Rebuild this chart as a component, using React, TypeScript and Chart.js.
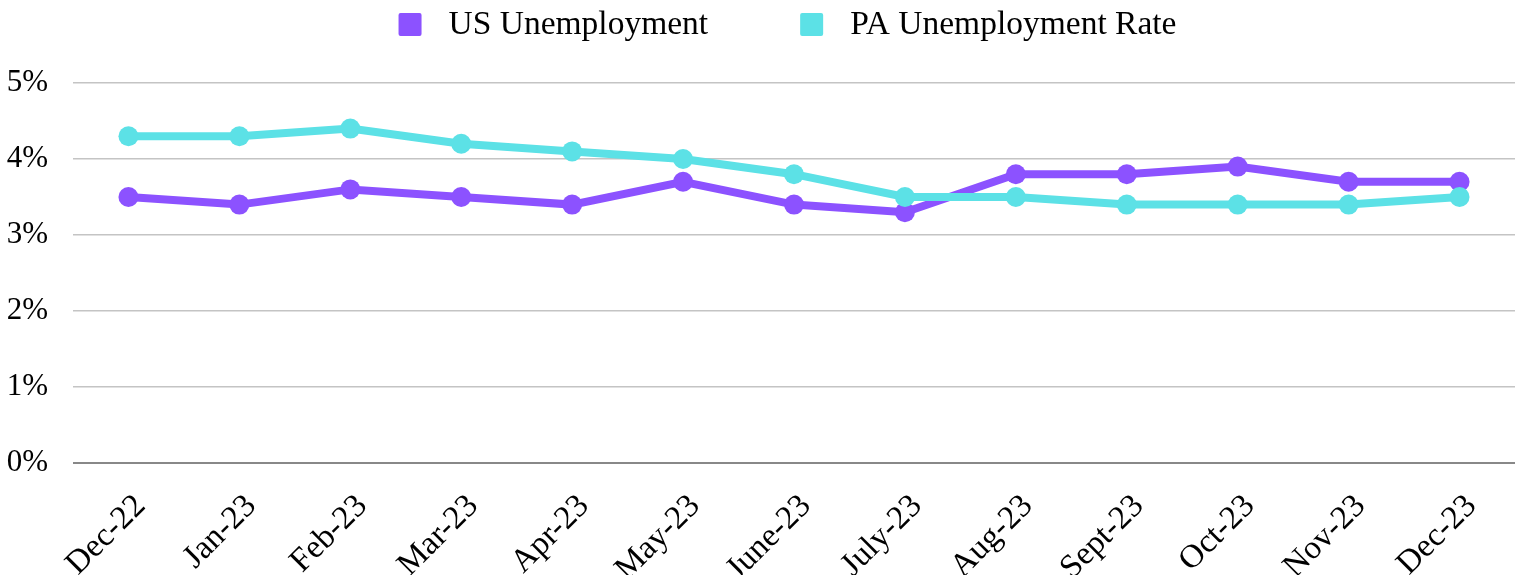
import React, { useEffect, useRef } from "react";
import { Chart, registerables } from "chart.js";

Chart.register(...registerables);

const categories = ["Dec-22", "Jan-23", "Feb-23", "Mar-23", "Apr-23", "May-23", "June-23", "July-23", "Aug-23", "Sept-23", "Oct-23", "Nov-23", "Dec-23"];
const usUnemployment = [3.5, 3.4, 3.6, 3.5, 3.4, 3.7, 3.4, 3.3, 3.8, 3.8, 3.9, 3.7, 3.7];
const paUnemployment = [4.3, 4.3, 4.4, 4.2, 4.1, 4.0, 3.8, 3.5, 3.5, 3.4, 3.4, 3.4, 3.5];
const seriesNames = ["US Unemployment", "PA Unemployment Rate"];
const seriesColors = ["#8C52FF", "#5CE1E6"];

const FONT = "'Liberation Serif', 'Times New Roman', serif";

// Custom legend: square swatch + label, centred at the top of the canvas
const topLegend = {
  id: "topLegend",
  afterDraw(chart: any) {
    const ctx = chart.ctx;
    const box = 23;
    const gapText = 27;
    const gapItem = 92;
    ctx.save();
    ctx.font = "33.5px " + FONT;
    const items = chart.data.datasets.map((d: any) => ({
      text: d.label as string,
      color: d.borderColor as string,
      w: ctx.measureText(d.label).width as number,
    }));
    let total = 0;
    items.forEach((it: any, i: number) => {
      total += box + gapText + it.w + (i < items.length - 1 ? gapItem : 0);
    });
    const cx = chart.width / 2 + 25;
    let x = cx - total / 2;
    const boxTop = 13;
    const baseline = 34;
    items.forEach((it: any) => {
      ctx.fillStyle = it.color;
      ctx.beginPath();
      if ((ctx as any).roundRect) (ctx as any).roundRect(x, boxTop, box, box, 2);
      else ctx.rect(x, boxTop, box, box);
      ctx.fill();
      ctx.fillStyle = "#000";
      ctx.textAlign = "left";
      ctx.textBaseline = "alphabetic";
      ctx.fillText(it.text, x + box + gapText, baseline);
      x += box + gapText + it.w + gapItem;
    });
    ctx.restore();
  },
};

export default function App() {
  const ref = useRef<HTMLCanvasElement | null>(null);
  useEffect(() => {
    if (!ref.current) return;
    const chart = new Chart(ref.current, {
      type: "line",
      data: {
        labels: categories,
        datasets: [
          {
            label: seriesNames[0],
            data: usUnemployment,
            borderColor: seriesColors[0],
            backgroundColor: seriesColors[0],
            borderWidth: 8,
            pointRadius: 10,
            pointBorderWidth: 0,
            pointBackgroundColor: seriesColors[0],
            tension: 0,
            order: 1,
          },
          {
            label: seriesNames[1],
            data: paUnemployment,
            borderColor: seriesColors[1],
            backgroundColor: seriesColors[1],
            borderWidth: 8,
            pointRadius: 10,
            pointBorderWidth: 0,
            pointBackgroundColor: seriesColors[1],
            tension: 0,
            order: 0,
          },
        ],
      },
      plugins: [topLegend],
      options: {
        animation: false,
        responsive: false,
        maintainAspectRatio: false,
        layout: { padding: { left: 0, right: 6, top: 83, bottom: 0 } },
        plugins: {
          tooltip: { enabled: false },
          legend: { display: false },
        },
        scales: {
          x: {
            offset: true,
            grid: { display: false, drawTicks: false },
            border: { display: false },
            afterFit: (scale: any) => {
              scale.height = 112;
              scale.paddingLeft = 0;
              scale.paddingRight = 0;
            },
            ticks: {
              color: "#000",
              font: { family: FONT, size: 33 },
              maxRotation: 45,
              minRotation: 45,
              padding: 24,
              labelOffset: 12,
              autoSkip: false,
            },
          },
          y: {
            min: 0,
            max: 5,
            afterFit: (scale: any) => {
              scale.width = 73;
            },
            grid: {
              drawTicks: false,
              color: (ctx: any) => (ctx.tick && ctx.tick.value === 0 ? "#888888" : "#C4C4C4"),
              lineWidth: (ctx: any) => (ctx.tick && ctx.tick.value === 0 ? 2 : 1.5),
            },
            border: { display: false },
            ticks: {
              stepSize: 1,
              color: "#000",
              font: { family: FONT, size: 31 },
              padding: 25,
              callback: (v: any) => v + "%",
            },
          },
        },
      },
    });
    return () => chart.destroy();
  }, []);
  return (
    <div style={{ position: "absolute", left: 0, top: 0, width: 1525, height: 575, background: "#fff" }}>
      <canvas ref={ref} width={1525} height={575} style={{ display: "block" }} />
    </div>
  );
}
